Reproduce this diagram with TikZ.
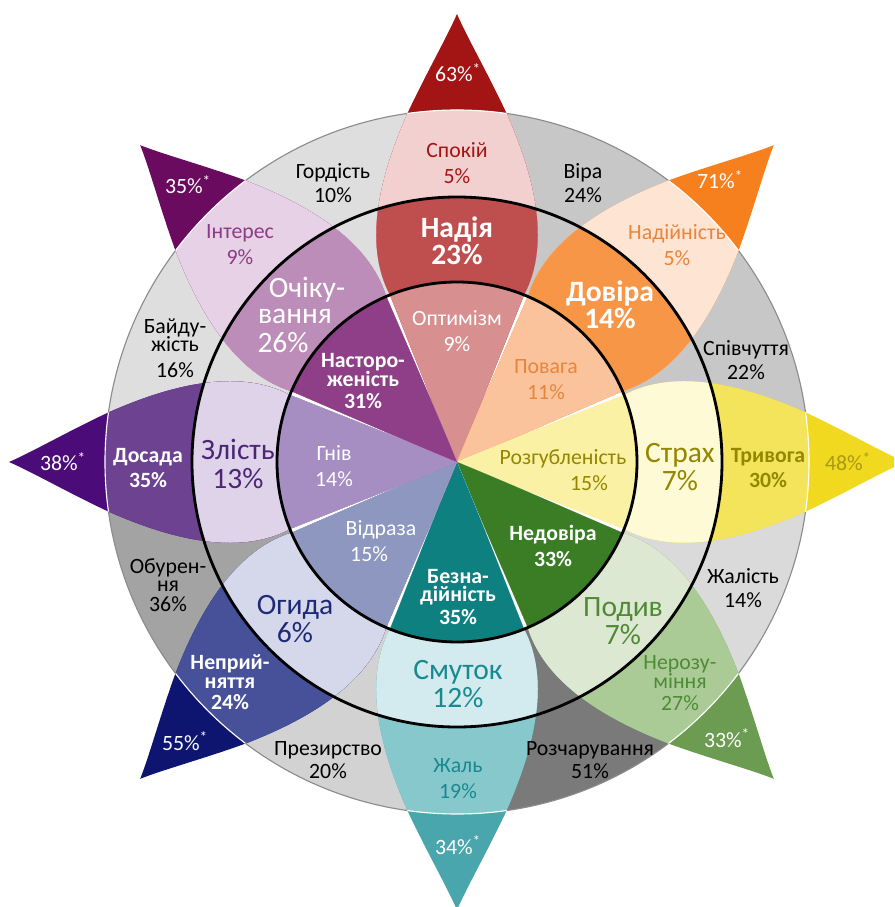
\documentclass[tikz,border=0pt]{standalone}
\usepackage{fontspec}
\setmainfont{Carlito}
\usepackage{xcolor}
\usepackage{tikz}

\definecolor{hopetip}{HTML}{A31515}
\definecolor{hopeout}{HTML}{F2D0D0}
\definecolor{hopemid}{HTML}{BF4E4E}
\definecolor{hopein}{HTML}{D88F8F}
\definecolor{trusttip}{HTML}{F7801E}
\definecolor{trustout}{HTML}{FDE4D3}
\definecolor{trustmid}{HTML}{F79646}
\definecolor{trustin}{HTML}{FBC39C}
\definecolor{feartip}{HTML}{F0D91E}
\definecolor{fearout}{HTML}{F4E45C}
\definecolor{fearmid}{HTML}{FEFAD6}
\definecolor{fearin}{HTML}{FAF1A5}
\definecolor{surptip}{HTML}{6B9C52}
\definecolor{surpout}{HTML}{AACA96}
\definecolor{surpmid}{HTML}{DDE8D3}
\definecolor{surpin}{HTML}{3B7D25}
\definecolor{sadtip}{HTML}{4AA6AD}
\definecolor{sadout}{HTML}{86C8CC}
\definecolor{sadmid}{HTML}{D3EBEE}
\definecolor{sadin}{HTML}{0E8080}
\definecolor{disgtip}{HTML}{0E1570}
\definecolor{disgout}{HTML}{47519A}
\definecolor{disgmid}{HTML}{D5D8EA}
\definecolor{disgin}{HTML}{8E97BF}
\definecolor{angtip}{HTML}{4B0B78}
\definecolor{angout}{HTML}{6C4291}
\definecolor{angmid}{HTML}{DFD3E9}
\definecolor{angin}{HTML}{A68EC2}
\definecolor{anttip}{HTML}{6B0B5F}
\definecolor{antout}{HTML}{E6D1E6}
\definecolor{antmid}{HTML}{BC8DB8}
\definecolor{antin}{HTML}{8F3F87}
\definecolor{grpride}{HTML}{DEDEDE}
\definecolor{grfaith}{HTML}{C7C7C7}
\definecolor{grcompassion}{HTML}{C7C7C7}
\definecolor{grpity}{HTML}{DADADA}
\definecolor{grdisappoint}{HTML}{7A7A7A}
\definecolor{grcontempt}{HTML}{D2D2D2}
\definecolor{groutrage}{HTML}{A3A3A3}
\definecolor{grapathy}{HTML}{DEDEDE}
\definecolor{ringgray}{HTML}{8C8C8C}
\definecolor{hopetext}{HTML}{A31515}
\definecolor{trusttext}{HTML}{E8853A}
\definecolor{feartext}{HTML}{958600}
\definecolor{feartiptext}{HTML}{A99A12}
\definecolor{surptext}{HTML}{4F8B36}
\definecolor{sadtext}{HTML}{188A8F}
\definecolor{disgtext}{HTML}{1F2A76}
\definecolor{angtext}{HTML}{4B2576}
\definecolor{anttext}{HTML}{8B3C83}

% petal: axis angle, tip, outer, middle, inner colour
\newcommand{\emopetal}[5]{%
  \begin{scope}
    \clip[rotate=#1-90] (0,0) .. controls (23,55) and (45,112) .. (67,167)
      .. controls (95,220) and (76,290) .. (48,352)
      .. controls (30,390) and (10,425) .. (0,448)
      .. controls (-10,425) and (-30,390) .. (-48,352)
      .. controls (-76,290) and (-95,220) .. (-67,167)
      .. controls (-45,112) and (-23,55) .. (0,0) -- cycle;
    \fill[#2] (0,0) circle (460);
    \fill[#3] (0,0) circle (352);
    \fill[#4] (0,0) circle (265);
    \fill[#5] (0,0) circle (180);
    \draw[white, line width=0.8pt] (0,0) circle (352);
  \end{scope}}
% grey wedge between two petals: centre angle, colour
\newcommand{\graywedge}[2]{%
  \fill[#2] (0,0) -- (#1-22.5:352) arc[start angle=#1-22.5, end angle=#1+22.5, radius=352] -- cycle;}

\begin{document}
\begin{tikzpicture}[x=0.025cm, y=0.025cm,
    small/.style={align=center, font=\fontsize{15.5}{18.5}\selectfont},
    smallb/.style={align=center, font=\bfseries\fontsize{15.5}{18}\selectfont},
    large/.style={align=center, font=\fontsize{21}{20}\selectfont},
    largeb/.style={align=center, font=\bfseries\fontsize{21}{19}\selectfont},
    tiplbl/.style={align=center, white, font=\fontsize{15.5}{18}\selectfont},
    graylbl/.style={align=center, font=\fontsize{15.5}{16.5}\selectfont}]
    \clip (-457,-445) rectangle (437,462);

    % Grey wedges
    \graywedge{112.5}{grpride}
    \graywedge{67.5}{grfaith}
    \graywedge{22.5}{grcompassion}
    \graywedge{-22.5}{grpity}
    \graywedge{-67.5}{grdisappoint}
    \graywedge{-112.5}{grcontempt}
    \graywedge{-157.5}{groutrage}
    \graywedge{157.5}{grapathy}
    \fill[white] (0,0) circle (180);
    \draw[ringgray, line width=0.8pt] (0,0) circle (352);

    % Petals
    \emopetal{90}{hopetip}{hopeout}{hopemid}{hopein}
    \emopetal{45}{trusttip}{trustout}{trustmid}{trustin}
    \emopetal{0}{feartip}{fearout}{fearmid}{fearin}
    \emopetal{-45}{surptip}{surpout}{surpmid}{surpin}
    \emopetal{-90}{sadtip}{sadout}{sadmid}{sadin}
    \emopetal{-135}{disgtip}{disgout}{disgmid}{disgin}
    \emopetal{180}{angtip}{angout}{angmid}{angin}
    \emopetal{135}{anttip}{antout}{antmid}{antin}

    % Rings
    \draw[line width=2pt] (0,0) circle (180);
    \draw[line width=2pt] (0,0) circle (265);

    % Nodes
    \node[tiplbl] (hopetipl) at (1,389) {63\%\textsuperscript{*}};
    \node[small, text=hopetext] (calm) at (0,299) {Спокій\\5\%};
    \node[largeb, white] (hope) at (0,221) {Надія\\23\%};
    \node[small, white] (optimism) at (0,131) {Оптимізм\\9\%};

    \node[tiplbl] (trusttipl) at (263,282) {71\%\textsuperscript{*}};
    \node[small, text=trusttext] (reliance) at (220,217) {Надійність\\5\%};
    \node[largeb, white] (trust) at (153,157) {Довіра\\14\%};
    \node[small, text=trusttext] (respect) at (89,82) {Повага\\11\%};

    \node[tiplbl, text=feartiptext] (feartipl) at (391,0) {48\%\textsuperscript{*}};
    \node[smallb, text=feartext] (anxiety) at (311,-6) {Тривога\\30\%};
    \node[large, text=feartext] (fear) at (223,-5) {Страх\\7\%};
    \node[small, text=feartext] (confusion) at (106,-8) {Розгубленість\\\hspace*{37pt}15\%};

    \node[tiplbl] (surptipl) at (270,-276) {33\%\textsuperscript{*}};
    \node[small, text=surptext] (incompr) at (223,-221) {Нерозу-\\[-5pt]міння\\[-2.5pt]27\%};
    \node[large, text=surptext] (surprise) at (166,-159) {Подив\\7\%};
    \node[smallb, white] (distrust) at (96,-84) {Недовіра\\33\%};

    \node[tiplbl] (sadtipl) at (1,-383) {34\%\textsuperscript{*}};
    \node[small, text=sadtext] (regret) at (1,-317) {Жаль\\19\%};
    \node[large, text=sadtext] (sadness) at (1,-222) {Смуток\\12\%};
    \node[smallb, white] (despair) at (1,-135) {Безна-\\[-5pt]дійність\\[-1.5pt]35\%};

    \node[tiplbl] (disgtipl) at (-272,-279) {55\%\textsuperscript{*}};
    \node[smallb, white] (rejection) at (-227,-220) {Неприй-\\[-4.5pt]няття\\[-3.5pt]24\%};
    \node[large, text=disgtext] (disgust) at (-162,-157) {Огида\\6\%};
    \node[small, white] (aversion) at (-76,-79) {Відраза\\15\%\hspace*{17pt}};

    \node[tiplbl] (angtipl) at (-394,0) {38\%\textsuperscript{*}};
    \node[smallb, white] (annoyance) at (-309,-6) {Досада\\35\%};
    \node[large, text=angtext] (anger) at (-219,-2) {Злість\\13\%};
    \node[small, white] (rage) at (-123,-4) {Гнів\\14\%};

    \node[tiplbl] (anttipl) at (-269,277) {35\%\textsuperscript{*}};
    \node[small, text=anttext] (interest) at (-217,217) {Інтерес\\9\%};
    \node[large, white] (anticipation) at (-162,147) {\hspace*{17pt}Очіку-\\[-2pt]вання\\[0.6pt]26\%\hspace*{17pt}};
    \node[smallb, white] (vigilance) at (-94,81) {Насторо-\\[-4.5pt]женість\\[-3pt]31\%};

    \node[graylbl] (pride) at (-124,279) {Гордість\\10\%};
    \node[graylbl] (faith) at (126,279) {Віра\\24\%};
    \node[graylbl] (compassion) at (289,102) {Співчуття\\22\%};
    \node[graylbl] (pity) at (286,-126) {Жалість\\14\%};
    \node[graylbl] (disappointment) at (133,-298) {Розчарування\\51\%};
    \node[graylbl] (contempt) at (-129,-298) {Презирство\\20\%};
    \node[graylbl] (outrage) at (-289,-123) {Обурен-\\[-4pt]ня\\[-2.3pt]36\%};
    \node[graylbl] (apathy) at (-282,114) {Байду-\\[-3.5pt]жість\\[1.5pt]16\%};
\end{tikzpicture}
\end{document}
